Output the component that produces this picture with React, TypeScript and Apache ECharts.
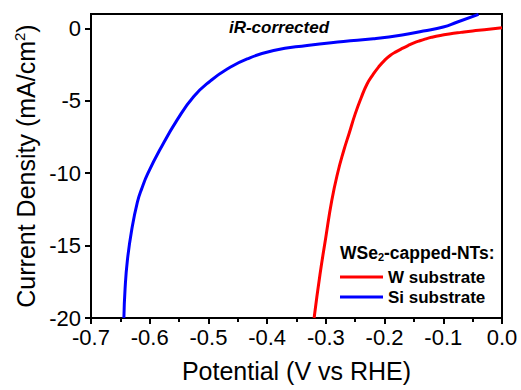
import React, { useEffect, useRef } from "react";
import * as echarts from "echarts";

const FONT = "'Liberation Sans', Arial, sans-serif";

const siPotential = [-0.644, -0.642, -0.638, -0.631, -0.621, -0.613, -0.603, -0.583, -0.553, -0.525, -0.496, -0.468, -0.434, -0.389, -0.332, -0.27, -0.219, -0.17, -0.134, -0.1, -0.077, -0.04];
const siCurrent = [-20, -18, -16, -14, -12, -11, -10, -8.4, -6.3, -4.7, -3.6, -2.8, -2.1, -1.52, -1.17, -0.9, -0.71, -0.45, -0.18, 0.1, 0.43, 0.97];

const wPotential = [-0.32, -0.31, -0.3, -0.29, -0.28, -0.27, -0.26, -0.25, -0.24, -0.23, -0.22, -0.21, -0.2, -0.19, -0.18, -0.17, -0.16, -0.15, -0.14, -0.13, -0.12, -0.105, -0.09, -0.07, -0.05, -0.03, 0];
const wCurrent = [-20, -17, -14.4, -11.9, -10.0, -8.5, -7.2, -5.9, -4.8, -3.85, -3.2, -2.65, -2.2, -1.85, -1.6, -1.38, -1.18, -1.0, -0.85, -0.72, -0.61, -0.48, -0.38, -0.27, -0.17, -0.09, 0.05];

const yTicks = [-20, -15, -10, -5, 0];
const seriesNames = ["W substrate", "Si substrate"];
const legendTitle = "WSe{sub|2}-capped-NTs:";
const annotation = "iR-corrected";

export default function App() {
  const ref = useRef<HTMLDivElement>(null);
  useEffect(() => {
    if (!ref.current) return;
    const chart = echarts.init(ref.current, null, { renderer: "svg" });
    const pair = (xs: number[], ys: number[]) => xs.map((x, i) => [x, ys[i]]);
    chart.setOption({
      animation: false,
      backgroundColor: "#fff",
      textStyle: { fontFamily: FONT },
      grid: {
        left: 91, right: 19, top: 14, bottom: 72,
        show: true, borderColor: "#000", borderWidth: 2,
      },
      xAxis: {
        type: "value", min: -0.7, max: 0, interval: 0.1,
        name: "Potential (V vs RHE)", nameLocation: "middle", nameGap: 40,
        nameTextStyle: { fontSize: 25, color: "#000", fontFamily: FONT },
        axisLine: { show: true, onZero: false, lineStyle: { color: "#000", width: 2 } },
        axisTick: { show: true, inside: false, length: 6, lineStyle: { color: "#000", width: 2 } },
        minorTick: { show: true, splitNumber: 2, length: 4, lineStyle: { color: "#000", width: 2 } },
        splitLine: { show: false },
        axisLabel: { fontSize: 22, color: "#000", margin: 8, fontFamily: FONT, formatter: (v: number) => v.toFixed(1) },
      },
      yAxis: {
        type: "value", min: -20, max: 1,
        name: "Current Density (mA/cm{sup|2})", nameLocation: "middle", nameGap: 47,
        nameTextStyle: {
          fontSize: 25, color: "#000", fontFamily: FONT,
          rich: { sup: { fontSize: 15, verticalAlign: "top", padding: [0, 0, 12, 0], color: "#000", fontFamily: FONT } },
        },
        axisLine: { show: true, onZero: false, lineStyle: { color: "#000", width: 2 } },
        axisTick: { show: true, inside: false, length: 6, customValues: yTicks, lineStyle: { color: "#000", width: 2 } },
        splitLine: { show: false },
        axisLabel: { fontSize: 22, color: "#000", margin: 10, fontFamily: FONT, customValues: yTicks },
      },
      legend: {
        orient: "vertical", left: 340, top: 267, itemGap: 0, padding: 0,
        itemWidth: 43, itemHeight: 3, icon: "rect",
        data: seriesNames,
        textStyle: { fontSize: 17, fontWeight: "bold", color: "#000", fontFamily: FONT, lineHeight: 20 },
      },
      graphic: [
        {
          type: "text", left: 340, top: 244,
          style: {
            text: legendTitle, fill: "#000", font: `bold 17.5px ${FONT}`,
            rich: { sub: { fontSize: 11, fontWeight: "bold", verticalAlign: "bottom", padding: [8, 0, 0, 0], fontFamily: FONT } },
          },
        },
        {
          type: "text", x: 279, y: 27,
          style: { text: annotation, fill: "#000", font: `italic bold 17px ${FONT}`, textAlign: "center", textVerticalAlign: "middle" },
        },
      ],
      series: [
        { name: seriesNames[0], type: "line", data: pair(wPotential, wCurrent), smooth: 0.5, showSymbol: false, symbol: "none", color: "#ff0000", lineStyle: { color: "#ff0000", width: 3 }, clip: true },
        { name: seriesNames[1], type: "line", data: pair(siPotential, siCurrent), smooth: 0.5, showSymbol: false, symbol: "none", color: "#0000ff", lineStyle: { color: "#0000ff", width: 3 }, clip: true },
      ],
    });
    return () => chart.dispose();
  }, []);
  return <div ref={ref} style={{ position: "fixed", left: 0, top: 0, width: 521, height: 390 }} />;
}
